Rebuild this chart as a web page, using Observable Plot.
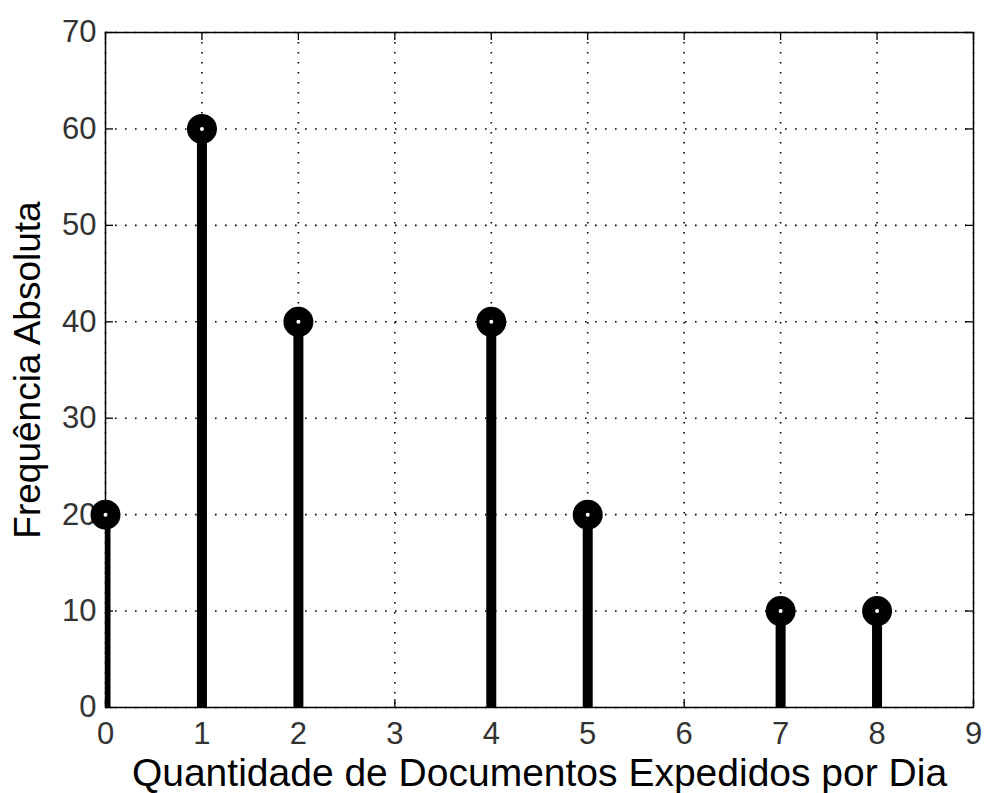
<!DOCTYPE html>
<html>
<head>
<meta charset="utf-8">
<script src="https://cdn.jsdelivr.net/npm/d3@7"></script>
<script src="https://cdn.jsdelivr.net/npm/@observablehq/plot@0.6"></script>
<style>
  html, body { margin: 0; padding: 0; background: #fff; }
  #chart svg { display: block; }
</style>
</head>
<body>
<div id="chart"></div>
<script>
const documentos = [0, 1, 2, 4, 5, 7, 8];
const frequencia = [20, 60, 40, 40, 20, 10, 10];
const xTicks = [0, 1, 2, 3, 4, 5, 6, 7, 8, 9];
const yTicks = [0, 10, 20, 30, 40, 50, 60, 70];
const xLabel = "Quantidade de Documentos Expedidos por Dia";
const yLabel = "Frequência Absoluta";

const data = documentos.map((d, i) => ({x: d, y: frequencia[i]}));

const W = 984, H = 793;
const mL = 105, mR = 11, mT = 32, mB = 86;
const plotH = H - mT - mB;
const plotW = W - mL - mR;
const tickLen = 8;

const chart = Plot.plot({
  width: W,
  height: H,
  marginLeft: mL,
  marginRight: mR,
  marginTop: mT,
  marginBottom: mB,
  style: {fontFamily: "'Liberation Sans', Arial, sans-serif", background: "#fff", overflow: "visible"},
  x: {domain: [0, 9], ticks: xTicks, label: null},
  y: {domain: [0, 70], ticks: yTicks, label: null},
  marks: [
    Plot.gridX(xTicks, {stroke: "#000", strokeOpacity: 1, strokeWidth: 1.6, strokeDasharray: "1.6,8.4"}),
    Plot.gridY(yTicks, {stroke: "#000", strokeOpacity: 1, strokeWidth: 1.6, strokeDasharray: "1.6,8.4"}),
    Plot.tickX(xTicks, {x: d => d, insetTop: plotH - tickLen, stroke: "#000", strokeWidth: 1.3}),
    Plot.tickX(xTicks, {x: d => d, insetBottom: plotH - tickLen, stroke: "#000", strokeWidth: 1.3}),
    Plot.tickY(yTicks, {y: d => d, insetRight: plotW - tickLen, stroke: "#000", strokeWidth: 1.3}),
    Plot.tickY(yTicks, {y: d => d, insetLeft: plotW - tickLen, stroke: "#000", strokeWidth: 1.3}),
    Plot.axisX(xTicks, {tickSize: 0, tickPadding: 14, fontSize: 31, fill: "#333", fontWeight: 300}),
    Plot.axisY(yTicks, {tickSize: 0, tickPadding: 9, fontSize: 31, fill: "#333", fontWeight: 300}),
    Plot.frame({stroke: "#000", strokeWidth: 1.5}),
    Plot.ruleX(data, {x: "x", y1: 0, y2: "y", stroke: "#000", strokeWidth: 10, clip: true}),
    Plot.dot(data, {x: "x", y: "y", r: 8.5, stroke: "#000", strokeWidth: 13, fill: "#fff"}),
    Plot.text([xLabel], {frameAnchor: "bottom", dy: 78, fontSize: 39, fill: "#000", lineAnchor: "bottom", textAnchor: "middle"}),
    Plot.text([yLabel], {frameAnchor: "left", dx: -77, rotate: -90, fontSize: 37, fill: "#000", textAnchor: "middle"})
  ]
});
document.getElementById("chart").appendChild(chart);
</script>
</body>
</html>
